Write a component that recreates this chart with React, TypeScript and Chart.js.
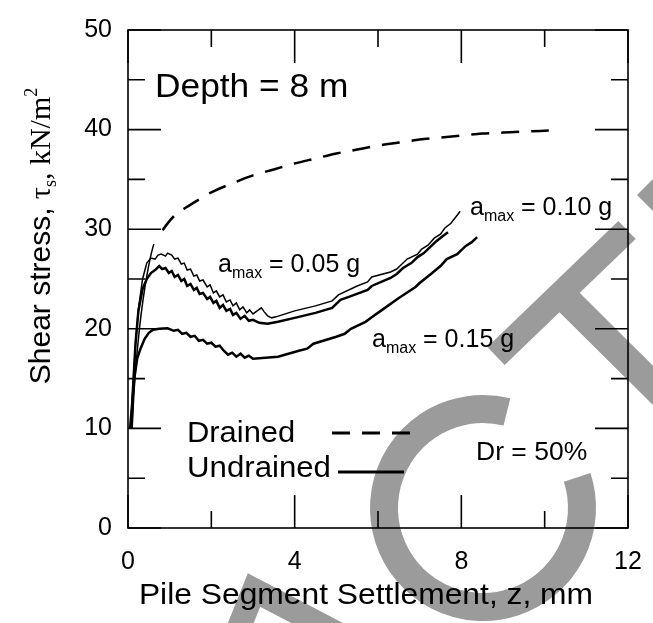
import React, { useEffect, useRef } from "react";
import { Chart, registerables } from "chart.js";

Chart.register(...registerables);

const SANS = '"Liberation Sans", Arial, sans-serif';
const SERIF = '"Liberation Serif", "Times New Roman", serif';

// Axis ticks
const xTickValues = [0, 4, 8, 12];
const xMinorValues = [2, 6, 10];
const yTickValues = [0, 10, 20, 30, 40, 50];
const yMinorValues = [5, 15, 25, 35, 45];

// Drained (dashed)
const drainedZ = [0.1, 0.15, 0.25, 0.4, 0.62, 0.83, 1.1, 1.4, 1.75, 2.0, 2.5, 3.0, 3.5, 4.0, 4.5, 5.0, 5.5, 6.0, 6.5, 7.0, 7.5, 8.0, 8.5, 9.0, 9.5, 10.1];
const drainedTau = [10, 14, 19, 24, 28.5, 29.9, 31.3, 32.2, 33.1, 33.7, 34.6, 35.4, 36.0, 36.6, 37.1, 37.6, 38.0, 38.4, 38.7, 39.0, 39.2, 39.4, 39.6, 39.7, 39.8, 39.9];

// Undrained, amax = 0.05 g (thin, upper)
const und05Z = [0.08, 0.12, 0.18, 0.25, 0.35, 0.45, 0.55, 0.65, 0.72, 0.8, 0.9, 0.95, 1.05, 1.12, 1.2, 1.28, 1.35, 1.42, 1.5, 1.58, 1.65, 1.72, 1.8, 1.9, 1.97, 2.05, 2.12, 2.2, 2.28, 2.36, 2.45, 2.52, 2.6, 2.68, 2.76, 2.85, 2.92, 3.0, 3.1, 3.2, 3.27, 3.35, 3.45, 3.55, 3.7, 4.0, 4.5, 4.9, 5.05, 5.5, 5.75, 5.85, 6.3, 6.45, 6.55, 6.7, 6.95, 7.05, 7.2, 7.35, 7.5, 7.6, 7.75, 7.9, 7.97];
const und05Tau = [10, 14, 18.5, 22, 25, 26.6, 27.1, 27.0, 27.4, 27.5, 27.3, 27.6, 27.4, 27.0, 27.1, 26.5, 26.6, 25.9, 26.0, 25.3, 25.4, 24.8, 24.9, 24.2, 24.4, 23.6, 23.8, 23.2, 23.4, 22.7, 22.9, 22.3, 22.6, 21.9, 22.2, 21.6, 21.9, 21.5, 21.8, 22.1, 21.7, 21.3, 21.1, 21.2, 21.4, 21.8, 22.3, 22.8, 23.4, 24.3, 24.7, 25.2, 25.7, 26.0, 26.4, 27.0, 27.5, 28.0, 28.4, 29.1, 29.5, 30.1, 30.6, 31.4, 31.8];

// Undrained, amax = 0.10 g (thick, middle)
const und10Z = [0.08, 0.12, 0.18, 0.25, 0.35, 0.45, 0.55, 0.65, 0.75, 0.82, 0.9, 0.98, 1.05, 1.12, 1.2, 1.28, 1.35, 1.42, 1.5, 1.58, 1.65, 1.72, 1.8, 1.9, 1.97, 2.05, 2.12, 2.2, 2.28, 2.36, 2.45, 2.52, 2.6, 2.7, 2.8, 2.9, 3.0, 3.15, 3.35, 3.6, 4.0, 4.5, 4.9, 5.1, 5.3, 5.75, 5.85, 6.3, 6.45, 6.6, 6.8, 6.95, 7.1, 7.25, 7.4, 7.55, 7.68];
const und10Tau = [10, 14, 18.5, 21.8, 24, 25, 25.6, 25.9, 26.3, 26.0, 26.1, 25.6, 25.8, 25.2, 25.4, 24.8, 25.0, 24.3, 24.5, 23.9, 24.1, 23.5, 23.6, 23.0, 23.2, 22.6, 22.8, 22.1, 22.4, 21.8, 22.0, 21.4, 21.6, 21.0, 21.3, 20.8, 20.9, 20.6, 20.5, 20.7, 21.1, 21.6, 22.1, 22.9, 23.2, 23.9, 24.3, 25.1, 25.5, 26.1, 26.6, 27.2, 27.6, 28.2, 28.8, 29.3, 29.7];

// Undrained, amax = 0.15 g (thick, lower)
const und15Z = [0.05, 0.1, 0.15, 0.22, 0.3, 0.4, 0.5, 0.6, 0.75, 0.95, 1.1, 1.2, 1.3, 1.4, 1.5, 1.6, 1.7, 1.8, 1.9, 2.0, 2.1, 2.2, 2.3, 2.4, 2.5, 2.6, 2.7, 2.8, 2.9, 3.0, 3.3, 3.6, 4.1, 4.3, 4.45, 5.0, 5.2, 5.35, 5.7, 5.9, 6.1, 6.5, 6.9, 7.0, 7.3, 7.5, 7.65, 7.9, 8.1, 8.25, 8.38];
const und15Tau = [10, 12.5, 15, 17, 18, 19, 19.6, 19.9, 20.0, 20.05, 19.8, 19.9, 19.5, 19.6, 19.2, 19.3, 18.8, 18.9, 18.5, 18.6, 18.2, 18.3, 17.8, 17.4, 17.6, 17.2, 17.5, 17.1, 17.3, 17.0, 17.1, 17.2, 17.8, 18.0, 18.5, 19.2, 19.5, 20.0, 20.7, 21.3, 21.9, 23.1, 24.2, 24.6, 25.6, 26.3, 27.0, 27.5, 28.3, 28.7, 29.2];

const toPoints = (xs: number[], ys: number[]) => xs.map((x, i) => ({ x, y: ys[i] }));

const WM = "#9b9b9b";

const watermarkPlugin = {
  id: "watermark",
  beforeDraw(chart: any) {
    const ctx = chart.ctx as CanvasRenderingContext2D;
    ctx.save();
    ctx.strokeStyle = WM;
    ctx.fillStyle = WM;
    ctx.lineCap = "butt";
    // rotated T
    ctx.lineWidth = 25;
    ctx.beginPath();
    ctx.moveTo(627, 230);
    ctx.lineTo(496, 356);
    ctx.stroke();
    ctx.lineWidth = 28;
    ctx.beginPath();
    ctx.moveTo(569, 302);
    ctx.lineTo(700, 432);
    ctx.stroke();
    // C
    ctx.lineWidth = 28;
    ctx.beginPath();
    ctx.arc(483, 508, 99, (-18 * Math.PI) / 180, (284 * Math.PI) / 180, false);
    ctx.stroke();
    // A
    ctx.lineWidth = 24;
    ctx.lineJoin = "miter";
    ctx.beginPath();
    ctx.moveTo(232, 645);
    ctx.lineTo(254, 590);
    ctx.lineTo(365, 648);
    ctx.stroke();
    // edge shape
    ctx.beginPath();
    ctx.moveTo(637, 195);
    ctx.lineTo(655, 177);
    ctx.lineTo(655, 213);
    ctx.closePath();
    ctx.fill();
    ctx.restore();
  },
};

function drawAmax(ctx: CanvasRenderingContext2D, x: number, base: number, value: string) {
  ctx.font = `25px ${SANS}`;
  ctx.fillText("a", x, base);
  let cx = x + ctx.measureText("a").width;
  ctx.font = `16px ${SANS}`;
  ctx.fillText("max", cx, base + 6);
  cx += ctx.measureText("max").width;
  ctx.font = `25px ${SANS}`;
  ctx.fillText(" = " + value, cx, base);
}

function stretchText(ctx: CanvasRenderingContext2D, text: string, x: number, y: number, font: string, sx: number, align: CanvasTextAlign = "left") {
  ctx.save();
  ctx.font = font;
  ctx.textAlign = align;
  ctx.translate(x, y);
  ctx.scale(sx, 1);
  ctx.fillText(text, 0, 0);
  ctx.restore();
}

const framePlugin = {
  id: "frame",
  afterDraw(chart: any) {
    const ctx = chart.ctx as CanvasRenderingContext2D;
    const xs = chart.scales.x;
    const ys = chart.scales.y;
    const L = xs.getPixelForValue(xTickValues[0]);
    const R = xs.getPixelForValue(xTickValues[xTickValues.length - 1]);
    const B = ys.getPixelForValue(yTickValues[0]);
    const T = ys.getPixelForValue(yTickValues[yTickValues.length - 1]);
    const major = 33;
    const minor = 17;
    ctx.save();
    ctx.strokeStyle = "#000";
    ctx.lineWidth = 1.6;
    ctx.strokeRect(L, T, R - L, B - T);
    ctx.beginPath();
    const vt = (v: number, len: number) => {
      const p = xs.getPixelForValue(v);
      ctx.moveTo(p, B);
      ctx.lineTo(p, B - len);
      ctx.moveTo(p, T);
      ctx.lineTo(p, T + len);
    };
    const ht = (v: number, len: number) => {
      const p = ys.getPixelForValue(v);
      ctx.moveTo(L, p);
      ctx.lineTo(L + len, p);
      ctx.moveTo(R, p);
      ctx.lineTo(R - len, p);
    };
    xTickValues.forEach((v) => vt(v, major));
    xMinorValues.forEach((v) => vt(v, minor));
    yTickValues.forEach((v) => ht(v, major));
    yMinorValues.forEach((v) => ht(v, minor));
    ctx.stroke();

    ctx.fillStyle = "#000";
    ctx.textBaseline = "alphabetic";

    // X title
    stretchText(ctx, "Pile Segment Settlement, z, mm", 366, 604, `30px ${SANS}`, 1.06, "center");

    // Y title (mixed fonts)
    ctx.save();
    ctx.translate(50, 236);
    ctx.rotate(-Math.PI / 2);
    const parts: { t: string; f: string; dy: number }[] = [
      { t: "Shear stress, ", f: `30px ${SANS}`, dy: 0 },
      { t: "\u03c4", f: `30px ${SERIF}`, dy: 0 },
      { t: "s", f: `18px ${SERIF}`, dy: 6 },
      { t: ", kN/m", f: `30px ${SERIF}`, dy: 0 },
      { t: "2", f: `18px ${SERIF}`, dy: -13 },
    ];
    let total = 0;
    parts.forEach((p) => {
      ctx.font = p.f;
      total += ctx.measureText(p.t).width;
    });
    let px = -total / 2;
    parts.forEach((p) => {
      ctx.font = p.f;
      ctx.fillText(p.t, px, p.dy);
      px += ctx.measureText(p.t).width;
    });
    ctx.restore();

    // Annotations
    stretchText(ctx, "Depth = 8 m", 155, 97, `33px ${SANS}`, 1.07);
    drawAmax(ctx, 470, 215, "0.10 g");
    drawAmax(ctx, 218, 272, "0.05 g");
    drawAmax(ctx, 372, 347, "0.15 g");
    stretchText(ctx, "Dr = 50%", 476, 460, `25px ${SANS}`, 1.06);

    // Legend
    stretchText(ctx, "Drained", 187, 442, `30px ${SANS}`, 1.03);
    stretchText(ctx, "Undrained", 187, 477, `30px ${SANS}`, 1.04);
    ctx.lineWidth = 3;
    ctx.setLineDash([18, 12]);
    ctx.beginPath();
    ctx.moveTo(332, 433);
    ctx.lineTo(412, 433);
    ctx.stroke();
    ctx.setLineDash([]);
    ctx.beginPath();
    ctx.moveTo(338, 472);
    ctx.lineTo(404, 472);
    ctx.stroke();
    ctx.restore();
  },
};

export default function App() {
  const ref = useRef<HTMLCanvasElement | null>(null);

  useEffect(() => {
    document.body.style.margin = "0";
    const canvas = ref.current;
    if (!canvas) return;
    const chart = new Chart(canvas, {
      type: "line",
      data: {
        datasets: [
          {
            label: "Drained",
            data: toPoints(drainedZ, drainedTau),
            borderColor: "#000",
            borderWidth: 2.5,
            pointRadius: 0,
            fill: false,
            cubicInterpolationMode: "monotone",
            segment: {
              borderDash: (c: any) => (c.p0DataIndex >= 5 ? [18, 12] : []),
              borderWidth: (c: any) => (c.p0DataIndex < 4 ? 1.5 : 2.5),
              borderColor: (c: any) => (c.p0DataIndex === 4 ? "rgba(0,0,0,0)" : "#000"),
            },
          } as any,
          {
            label: "amax = 0.05 g",
            data: toPoints(und05Z, und05Tau),
            borderColor: "#000",
            borderWidth: 1.5,
            pointRadius: 0,
            fill: false,
            tension: 0,
          },
          {
            label: "amax = 0.10 g",
            data: toPoints(und10Z, und10Tau),
            borderColor: "#000",
            borderWidth: 2.5,
            pointRadius: 0,
            fill: false,
            tension: 0,
          },
          {
            label: "amax = 0.15 g",
            data: toPoints(und15Z, und15Tau),
            borderColor: "#000",
            borderWidth: 2.5,
            pointRadius: 0,
            fill: false,
            tension: 0,
          },
        ],
      },
      options: {
        animation: false,
        responsive: false,
        maintainAspectRatio: false,
        layout: { padding: { top: 30, right: 25, left: 0, bottom: 0 } },
        plugins: { legend: { display: false }, tooltip: { enabled: false } },
        scales: {
          x: {
            type: "linear",
            min: 0,
            max: 12,
            afterBuildTicks: (s: any) => {
              s.ticks = xTickValues.map((v) => ({ value: v }));
            },
            afterFit: (s: any) => {
              s.height = 95;
              s.paddingLeft = 0;
              s.paddingRight = 0;
            },
            grid: { display: false, drawTicks: false },
            border: { display: false },
            ticks: {
              font: { family: SANS, size: 25 },
              color: "#000",
              padding: 19,
              maxRotation: 0,
              autoSkip: false,
            },
          },
          y: {
            type: "linear",
            min: 0,
            max: 50,
            afterBuildTicks: (s: any) => {
              s.ticks = yTickValues.map((v) => ({ value: v }));
            },
            afterFit: (s: any) => {
              s.width = 128;
              s.paddingTop = 0;
              s.paddingBottom = 0;
            },
            grid: { display: false, drawTicks: false },
            border: { display: false },
            ticks: {
              font: { family: SANS, size: 25 },
              color: "#000",
              padding: 16,
              autoSkip: false,
            },
          },
        },
      },
      plugins: [watermarkPlugin, framePlugin],
    });
    return () => chart.destroy();
  }, []);

  return <canvas ref={ref} width={653} height={623} style={{ display: "block" }} />;
}
